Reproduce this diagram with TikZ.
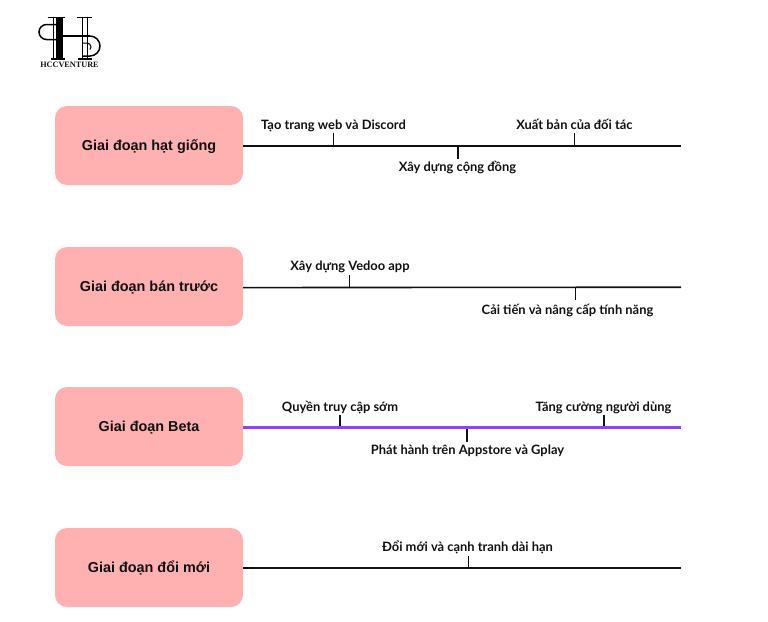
\documentclass[tikz,border=0pt]{standalone}
\usepackage{fontspec}
\setmainfont{Liberation Sans}
\newfontfamily\lblfont{Lato}[BoldFont={Lato Bold}]
\newfontfamily\logofont{Liberation Serif}
\definecolor{boxpink}{HTML}{FFB0B1}
\definecolor{beamcol}{HTML}{8C46EE}
\definecolor{ink}{HTML}{111111}
\tikzset{
  phase/.style={rectangle,fill=boxpink,rounded corners=12pt,minimum width=188pt,minimum height=79pt,inner sep=0pt,text height=12pt,text depth=2pt,font=\fontsize{14.4}{16}\selectfont\bfseries,text=ink,anchor=center},
  lbl/.style={inner sep=0pt,font=\lblfont\fontsize{12.9}{15}\selectfont\bfseries,text=ink,anchor=center},
  rail/.style={line width=1.6pt,draw=ink},
  railb/.style={line width=2.6pt,draw=beamcol},
  tick/.style={line width=1.6pt,draw=ink},
  logoline/.style={draw=black,line width=1pt},
}
\begin{document}
\begin{tikzpicture}[x=1pt,y=-1pt]
\useasboundingbox (0,0) rectangle (768,621);
% phases
\node[phase] (p1) at (149,145.5) {Giai đoạn hạt giống};
\node[phase] (p2) at (149,286.5) {Giai đoạn bán trước};
\node[phase] (p3) at (149,426.5) {Giai đoạn Beta};
\node[phase] (p4) at (149,567.5) {Giai đoạn đổi mới};
% rail ends
\coordinate (e1) at (681,146);
\coordinate (s2) at (243,287.6);
\coordinate (e2) at (681,287.2);
\coordinate (s3) at (243,427.6);
\coordinate (e3) at (681,427.6);
\coordinate (e4) at (681,568);
\draw[rail] (p1.east |- e1) -- (e1);
\draw[rail] (s2) -- (e2);
\draw[rail] (p4.east |- e4) -- (e4);
% labels
\node[lbl] (a1) at (333.5,125.5) {Tạo trang web và Discord};
\node[lbl] (a2) at (457.5,168) {Xây dựng cộng đồng};
\node[lbl] (a3) at (574.5,124.5) {Xuất bản của đối tác};
\node[lbl] (b1) at (350,266.5) {Xây dựng Vedoo app};
\node[lbl] (b2) at (567.5,311) {Cải tiến và nâng cấp tính năng};
\node[lbl] (c1) at (340,408) {Quyền truy cập sớm};
\node[lbl] (c2) at (467.5,450.5) {Phát hành trên Appstore và Gplay};
\node[lbl] (c3) at (603.5,408) {Tăng cường người dùng};
\node[lbl] (d1) at (467.5,547.5) {Đổi mới và cạnh tranh dài hạn};
% ticks
\coordinate (t1a) at (333.5,133); \coordinate (t1b) at (333.5,146);
\coordinate (t2a) at (458,146);   \coordinate (t2b) at (458,158.5);
\coordinate (t3a) at (574.5,133); \coordinate (t3b) at (574.5,146);
\coordinate (t4a) at (349.5,275); \coordinate (t4b) at (349.5,288);
\coordinate (t5a) at (575.5,287); \coordinate (t5b) at (575.5,299.5);
\coordinate (t6a) at (340,415);   \coordinate (t6b) at (340,427);
\coordinate (t7a) at (467,429);   \coordinate (t7b) at (467,442);
\coordinate (t8a) at (604,415);   \coordinate (t8b) at (604,427);
\coordinate (t9a) at (468.5,556); \coordinate (t9b) at (468.5,568);
\foreach \i in {1,...,9}{\draw[tick] (t\i a) -- (t\i b);}
\draw[railb] (s3) -- (e3);
% logo
\begin{scope}
\fill[black] (56,17) rectangle (63,59);
\draw[logoline,line width=1.2pt] (48,17.5) -- (65,17.5);
\draw[logoline,line width=1.2pt] (51,59) -- (65,59);
\draw[logoline,line width=1pt] (53,17.5) -- (53,59);
\draw[logoline,line width=1.5pt] (56,24.5) -- (46.5,24.5) arc[start angle=270,end angle=90,radius=7.5] -- (56,39.5);
\draw[logoline,line width=1.2pt] (63,36) -- (90,36);
\draw[logoline,line width=1pt] (82,17.5) -- (82,59);
\draw[logoline,line width=1pt] (87.5,17.5) -- (87.5,59);
\draw[logoline,line width=1.2pt] (77,17.5) -- (92,17.5);
\draw[logoline,line width=1.2pt] (78,59) -- (92,59);
\draw[logoline,line width=1.5pt] (90,36) arc[start angle=-90,end angle=90,radius=10] -- (82,56);
\draw[logoline,line width=1pt] (82,43) -- (87,43) arc[start angle=-90,end angle=40,radius=4];
\end{scope}
\node[inner sep=0pt,font=\logofont\fontsize{8.2}{9}\selectfont\bfseries,text=ink] (logo) at (69.5,65) {HCCVENTURE};
\end{tikzpicture}
\end{document}
